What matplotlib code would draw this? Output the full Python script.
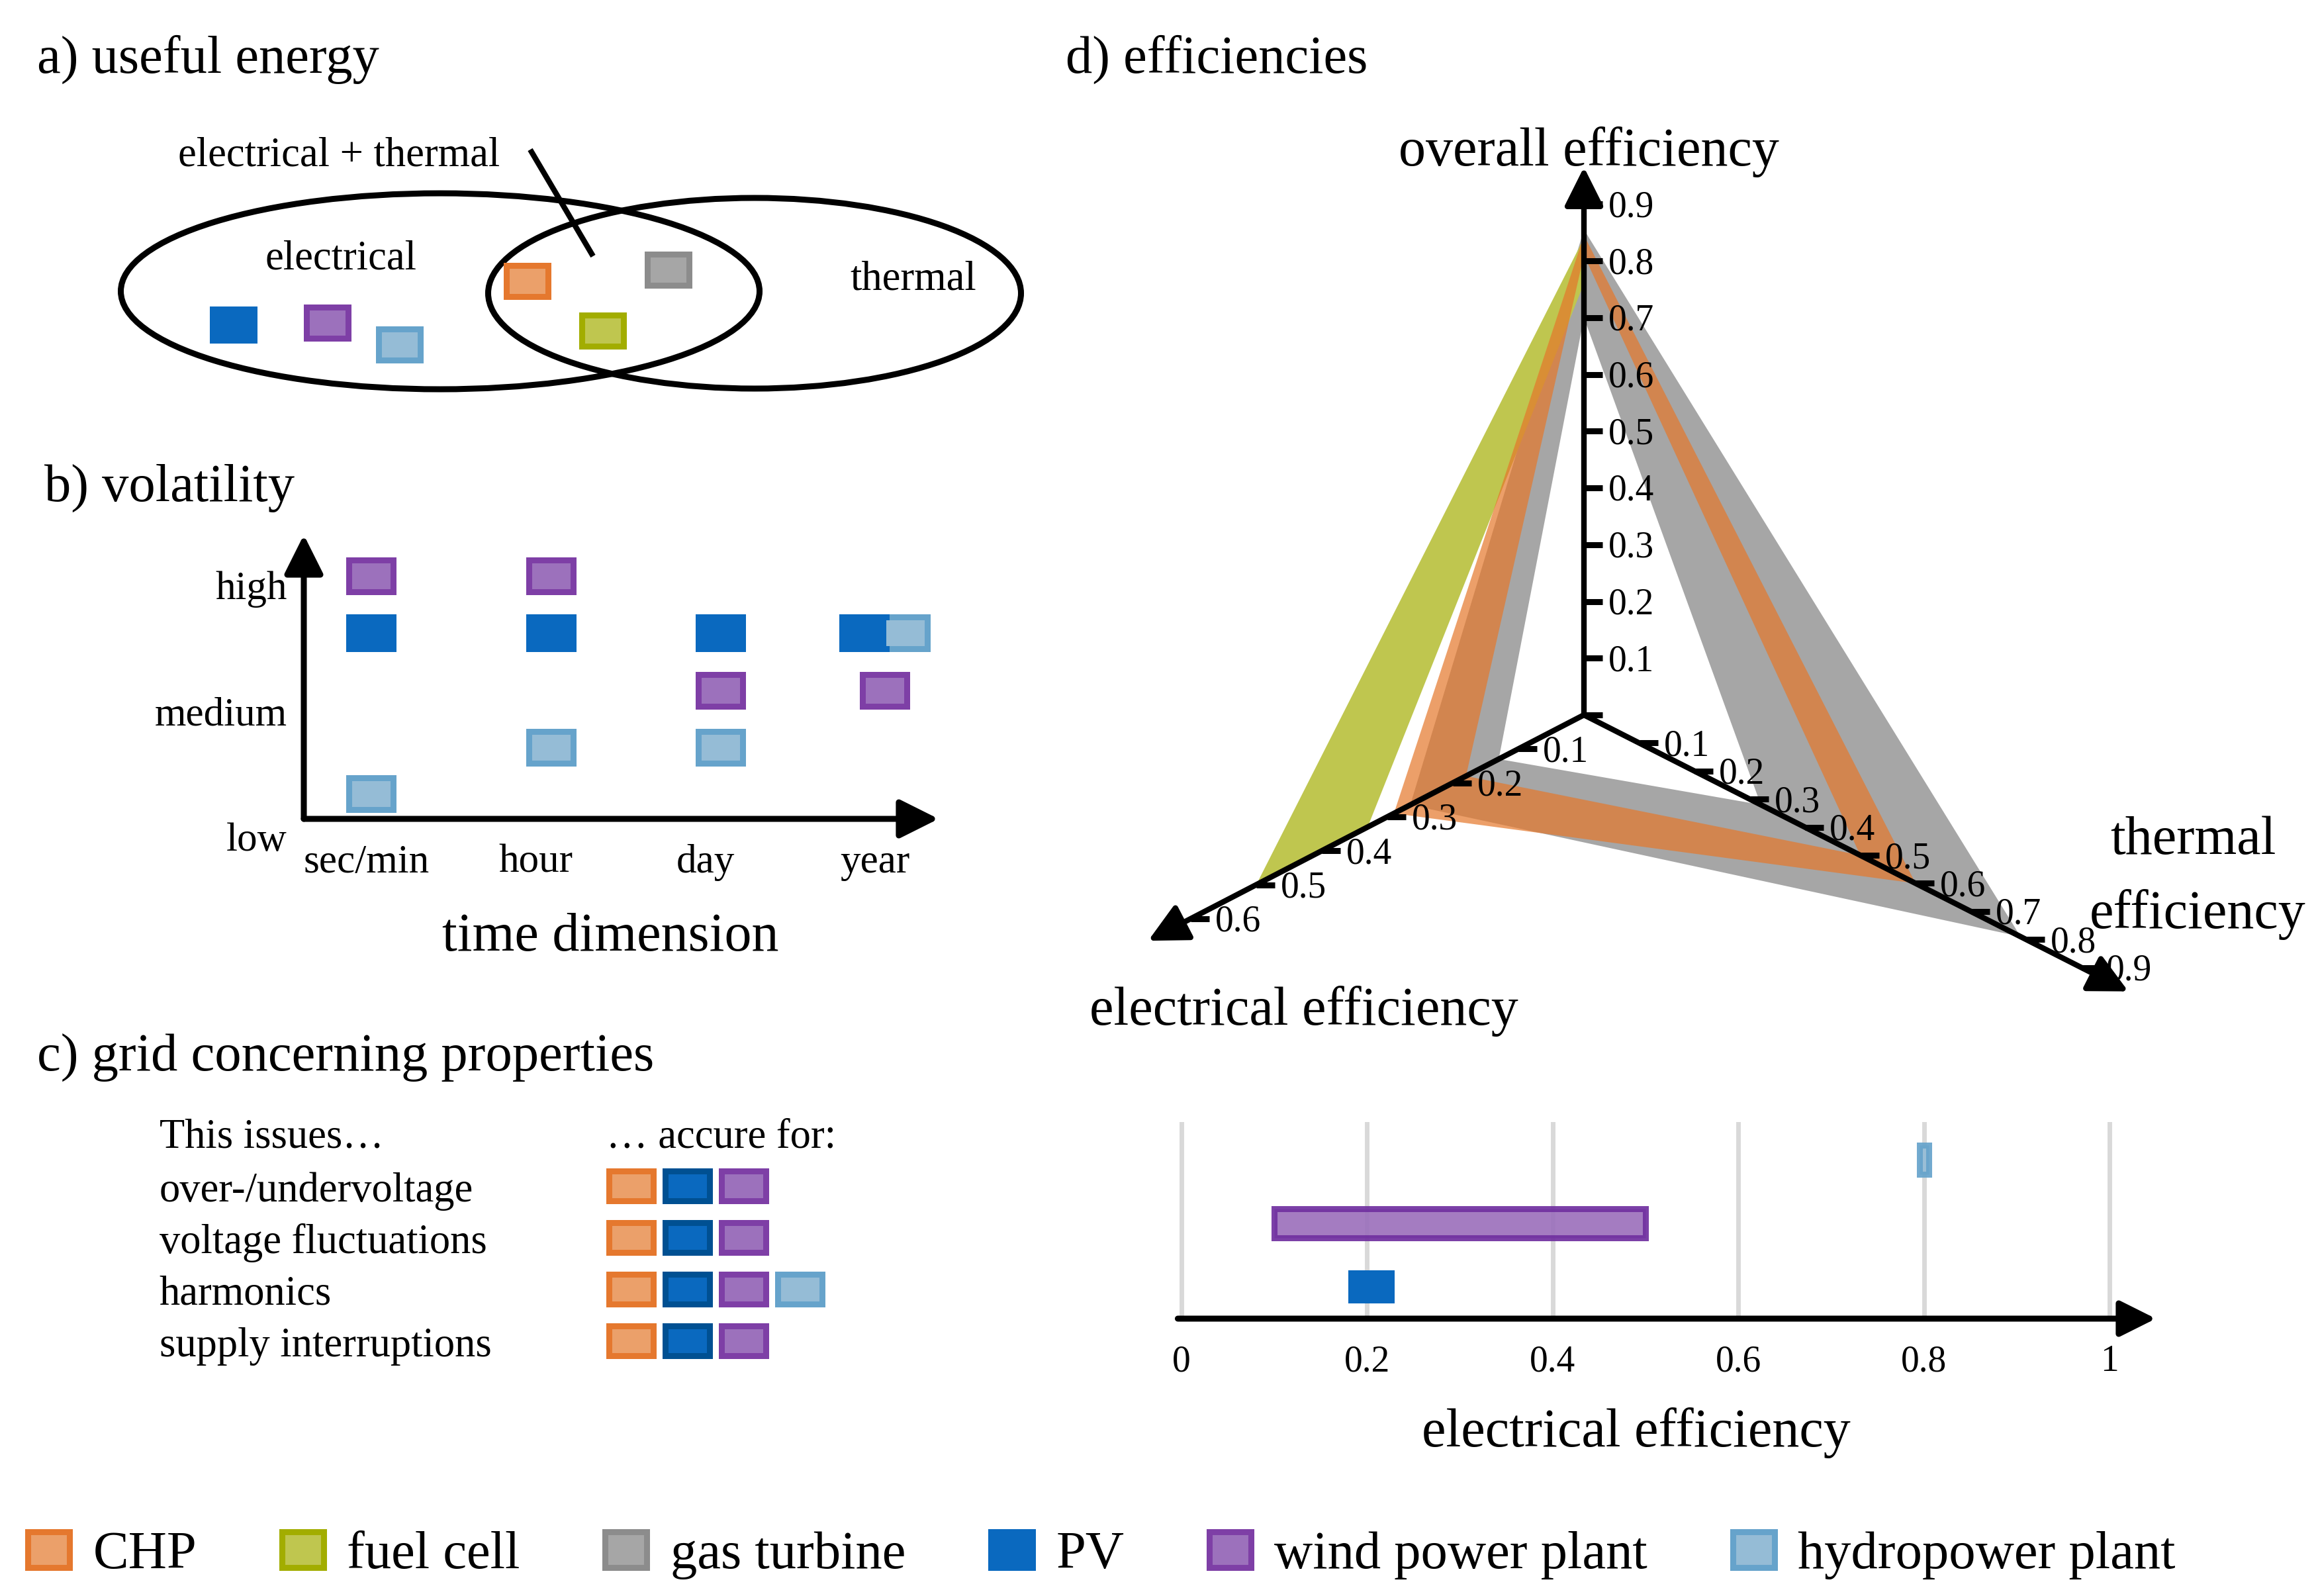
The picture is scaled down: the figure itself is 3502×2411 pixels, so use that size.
import matplotlib
matplotlib.use("Agg")
import numpy as np
import matplotlib.pyplot as plt
from matplotlib.patches import Rectangle, Ellipse, Patch, PathPatch
from matplotlib.path import Path

plt.rcParams['font.family'] = ['Liberation Serif', 'DejaVu Serif']

W, H = 3502, 2411

# technologies and colours (edge, fill)
technologies = ['CHP', 'fuel cell', 'gas turbine', 'PV', 'wind power plant', 'hydropower plant']
edge_colors = ['#E5782E', '#A2AD00', '#8C8C8C', '#0A69BF', '#7E3FA6', '#66A3CB']
fill_colors = ['#EBA06A', '#BFC64F', '#A6A6A6', '#0A69BF', '#9C71BC', '#95BCD6']
PV_DARK = '#005092'

# a) useful energy
electrical_only = ['PV', 'wind power plant', 'hydropower plant']
electrical_thermal = ['CHP', 'gas turbine', 'fuel cell']

# b) volatility
time_labels = ['sec/min', 'hour', 'day', 'year']
level_labels = ['low', 'medium', 'high']
vol_wind_x = [0, 1.06, 2.06, 3.03]
vol_wind_y = [2.09, 2.09, 1.18, 1.18]
vol_pv_x = [0, 1.06, 2.06, 2.91]
vol_pv_y = [1.64, 1.64, 1.64, 1.64]
vol_hydro_x = [0, 1.06, 2.06, 3.15]
vol_hydro_y = [0.36, 0.73, 0.73, 1.64]

# c) grid concerning properties
issues = ['over-/undervoltage', 'voltage fluctuations', 'harmonics', 'supply interruptions']
issue_columns = ['CHP', 'PV', 'wind power plant', 'hydropower plant']
issue_techs = [
    ['CHP', 'PV', 'wind power plant'],
    ['CHP', 'PV', 'wind power plant'],
    ['CHP', 'PV', 'wind power plant', 'hydropower plant'],
    ['CHP', 'PV', 'wind power plant'],
]

# d) efficiencies (ranges)
d_techs = ['gas turbine', 'fuel cell', 'CHP']
elec_lo = [0.13, 0.33, 0.18]
elec_hi = [0.265, 0.50, 0.29]
therm_lo = [0.32, 0.0, 0.50]
therm_hi = [0.79, 0.0, 0.60]
total_lo = [0.70, 0.76, 0.81]
total_hi = [0.855, 0.84, 0.845]
d_alpha = [1.0, 1.0, 0.7]
ticks_total = [0, 0.1, 0.2, 0.3, 0.4, 0.5, 0.6, 0.7, 0.8, 0.9]
ticks_elec = [0.1, 0.2, 0.3, 0.4, 0.5, 0.6]
ticks_therm = [0.1, 0.2, 0.3, 0.4, 0.5, 0.6, 0.7, 0.8, 0.9]

# electrical efficiency bars
bar_techs = ['PV', 'wind power plant', 'hydropower plant']
bar_lo = [0.18, 0.10, 0.795]
bar_hi = [0.23, 0.50, 0.805]
bar_ticks = [0, 0.2, 0.4, 0.6, 0.8, 1]
bar_ticklabels = ['0', '0.2', '0.4', '0.6', '0.8', '1']


def edge_of(name):
    return edge_colors[technologies.index(name)]


def fill_of(name):
    return fill_colors[technologies.index(name)]


fig = plt.figure(figsize=(W / 100, H / 100), dpi=100)


def px_axes(x0, y0, x1, y1):
    ax = fig.add_axes([x0 / W, 1 - y1 / H, (x1 - x0) / W, (y1 - y0) / H])
    ax.set_axis_off()
    return ax


def box(ax, x, y, w, h, ex, ey, edge, face, z=3):
    ax.add_patch(Rectangle((x - w / 2, y - h / 2), w, h, facecolor=edge,
                           edgecolor='none', zorder=z, clip_on=False))
    if face != edge:
        ax.add_patch(Rectangle((x - w / 2 + ex, y - h / 2 + ey), w - 2 * ex, h - 2 * ey,
                               facecolor=face, edgecolor='none', zorder=z + 0.1, clip_on=False))


def arrow(ax, start, end, lw=6.5, scale=90):
    ax.annotate('', xy=end, xytext=start, xycoords='data', annotation_clip=False,
                arrowprops=dict(arrowstyle='-|>,head_length=0.4,head_width=0.2',
                                mutation_scale=scale, lw=lw, color='k',
                                shrinkA=0, shrinkB=0))


# overlay axes in pixel units for titles and the schematic
ax0 = px_axes(0, 0, W, H)
ax0.set_xlim(0, W)
ax0.set_ylim(H, 0)

TITLE = 58
SMALL = 45
for txt, x, y in [('a) useful energy', 56, 110), ('b) volatility', 67, 757),
                  ('c) grid concerning properties', 56, 1618), ('d) efficiencies', 1610, 110)]:
    ax0.text(x, y, txt, fontsize=TITLE, ha='left', va='baseline')

# -------------------------
# a) useful energy (Venn)
# -------------------------
ax0.add_patch(Ellipse((665, 440), 965, 296, fill=False, lw=6.5, ec='k'))
ax0.add_patch(Ellipse((1140, 443), 805, 288, fill=False, lw=6.5, ec='k'))
ax0.plot([801, 896], [226, 387], color='k', lw=6, solid_capstyle='butt')
ax0.text(269, 250, 'electrical + thermal', fontsize=SMALL, va='baseline')
ax0.text(400, 406, 'electrical', fontsize=SMALL, va='baseline')
ax0.text(1284, 437, 'thermal', fontsize=SMALL, va='baseline')

slots_elec = [(353, 491), (495, 488), (604, 521)]
slots_both = [(797, 425), (1010, 408), (911, 500)]
for name, (x, y) in zip(electrical_only + electrical_thermal, slots_elec + slots_both):
    box(ax0, x, y, 72, 56, 9, 9, edge_of(name), fill_of(name))

# -------------------------
# b) volatility
# -------------------------
ax_b = px_axes(459, 808, 1418, 1268)
ax_b.set_xlim(-0.4, 3.346)
ax_b.set_ylim(0, 2.421)
y_axis0 = 0.163
arrow(ax_b, (-0.4, y_axis0), (-0.4, 2.421))
arrow(ax_b, (-0.4, y_axis0), (3.346, y_axis0))
for i, lab in enumerate(level_labels):
    ax_b.text(-0.50, i - 0.09, lab, fontsize=44, ha='right', va='baseline')
for i, lab in enumerate(time_labels):
    ax_b.text(i - 0.03, -0.263, lab, fontsize=44, ha='center', va='baseline')
ax0.text(922, 1436, 'time dimension', fontsize=59, ha='center', va='baseline')

bw, bh, bex, bey = 76 / 256, 57 / 190, 9 / 256, 9 / 190
for name, xs, ys in [('hydropower plant', vol_hydro_x, vol_hydro_y),
                     ('wind power plant', vol_wind_x, vol_wind_y),
                     ('PV', vol_pv_x, vol_pv_y)]:
    for x, y in zip(xs, ys):
        box(ax_b, x, y, bw, bh, bex, bey, edge_of(name), fill_of(name))

# -------------------------
# c) grid concerning properties
# -------------------------
ax_c = px_axes(900, 1680, 1300, 2080)
ax_c.set_xlim(-0.635, 4.07)
ax_c.set_ylim(3.69, -1.436)
ax_c.text(-8.39, -0.756, 'This issues…', fontsize=SMALL, ha='left', va='baseline')
ax_c.text(-0.447, -0.756, '… accure for:', fontsize=SMALL, ha='left', va='baseline')
cw, ch, cex, cey = 76 / 85, 54 / 78, 9 / 85, 9 / 78
for j, (issue, techs) in enumerate(zip(issues, issue_techs)):
    ax_c.text(-8.39, j + 0.29, issue, fontsize=SMALL, ha='left', va='baseline')
    for name in techs:
        i = issue_columns.index(name)
        edge = PV_DARK if name == 'PV' else edge_of(name)
        box(ax_c, i, j, cw, ch, cex, cey, edge, fill_of(name))

# -------------------------
# d) efficiencies
# -------------------------
OX, OY = 2393, 1080
ax_d = px_axes(1650, 150, 3502, 1650)
ax_d.set_xlim(1650 - OX, 3502 - OX)
ax_d.set_ylim(OY - 1650, OY - 150)
vec_e = np.array([-990.0, -513.0])
vec_t = np.array([835.0, -424.0])
vec_o = np.array([0.0, 857.5])

for k, name in enumerate(d_techs):
    outer = [elec_hi[k] * vec_e, therm_hi[k] * vec_t, total_hi[k] * vec_o]
    inner = [elec_lo[k] * vec_e, therm_lo[k] * vec_t, total_lo[k] * vec_o]
    verts = outer + [outer[0]] + [inner[0], inner[2], inner[1], inner[0]]
    codes = [Path.MOVETO, Path.LINETO, Path.LINETO, Path.CLOSEPOLY] * 2
    col = '#E5772A' if name == 'CHP' else fill_of(name)
    ax_d.add_patch(PathPatch(Path(np.array(verts), codes), facecolor=col,
                             edgecolor='none', alpha=d_alpha[k], zorder=2, clip_on=False))

for vec, top in [(vec_o, 0.965), (vec_e, 0.665), (vec_t, 0.985)]:
    arrow(ax_d, (0, 0), tuple(vec * top), lw=6, scale=90)

for vec, ticks, show0 in [(vec_o, ticks_total, False), (vec_e, ticks_elec, True),
                          (vec_t, ticks_therm, True)]:
    for v in ticks:
        p = vec * v
        ax_d.plot([p[0], p[0] + 28], [p[1], p[1]], color='k', lw=6.5,
                  solid_capstyle='butt', zorder=5, clip_on=False)
        if v > 0:
            ax_d.text(p[0] + 37, p[1] - 5, f'{v:g}', fontsize=40, ha='left',
                      va='center', zorder=6)

ax0.text(2400, 250, 'overall efficiency', fontsize=59, ha='center', va='baseline')
ax0.text(1970, 1548, 'electrical efficiency', fontsize=59, ha='center', va='baseline')
ax0.text(3313, 1290, 'thermal', fontsize=59, ha='center', va='baseline')
ax0.text(3320, 1402, 'efficiency', fontsize=59, ha='center', va='baseline')

# -------------------------
# electrical efficiency bars
# -------------------------
ax_e = px_axes(1785, 1698, 3187, 1992)
ax_e.set_xlim(0, 1)
ax_e.set_ylim(-0.5, 2.56)
for v in bar_ticks:
    ax_e.axvline(v, color='#D9D9D9', lw=5, zorder=0, clip_on=False)
for r, name in enumerate(bar_techs):
    lo, hi = bar_lo[r], bar_hi[r]
    if name == 'PV':
        ax_e.barh(r, hi - lo, left=lo, height=0.52, color=fill_of(name), lw=0, zorder=2)
    else:
        edge = '#7030A0' if name == 'wind power plant' else edge_of(name)
        ax_e.barh(r, hi - lo, left=lo, height=0.46, facecolor=fill_of(name),
                  edgecolor=edge, lw=6.5, alpha=0.92, zorder=2)
arrow(ax_e, (-0.004, -0.5), (1.05, -0.5), lw=6.5, scale=83)
for v, lab in zip(bar_ticks, bar_ticklabels):
    ax_e.text(v, -0.269, lab, transform=ax_e.get_xaxis_transform(), fontsize=40,
              ha='center', va='baseline')
ax_e.text(0.49, -0.656, 'electrical efficiency', transform=ax_e.transAxes,
          fontsize=59, ha='center', va='baseline')

# -------------------------
# legend
# -------------------------
handles = [Patch(facecolor=f, edgecolor=e, linewidth=6.5)
           for e, f in zip(edge_colors, fill_colors)]
fig.legend(handles, technologies, loc='center left', bbox_to_anchor=(42 / W, 1 - 2350 / H),
           ncol=6, frameon=False, fontsize=58, handlelength=0.78, handleheight=0.66,
           handletextpad=0.44, columnspacing=1.6, borderpad=0, borderaxespad=0)

fig.savefig('out.png', dpi=100)
